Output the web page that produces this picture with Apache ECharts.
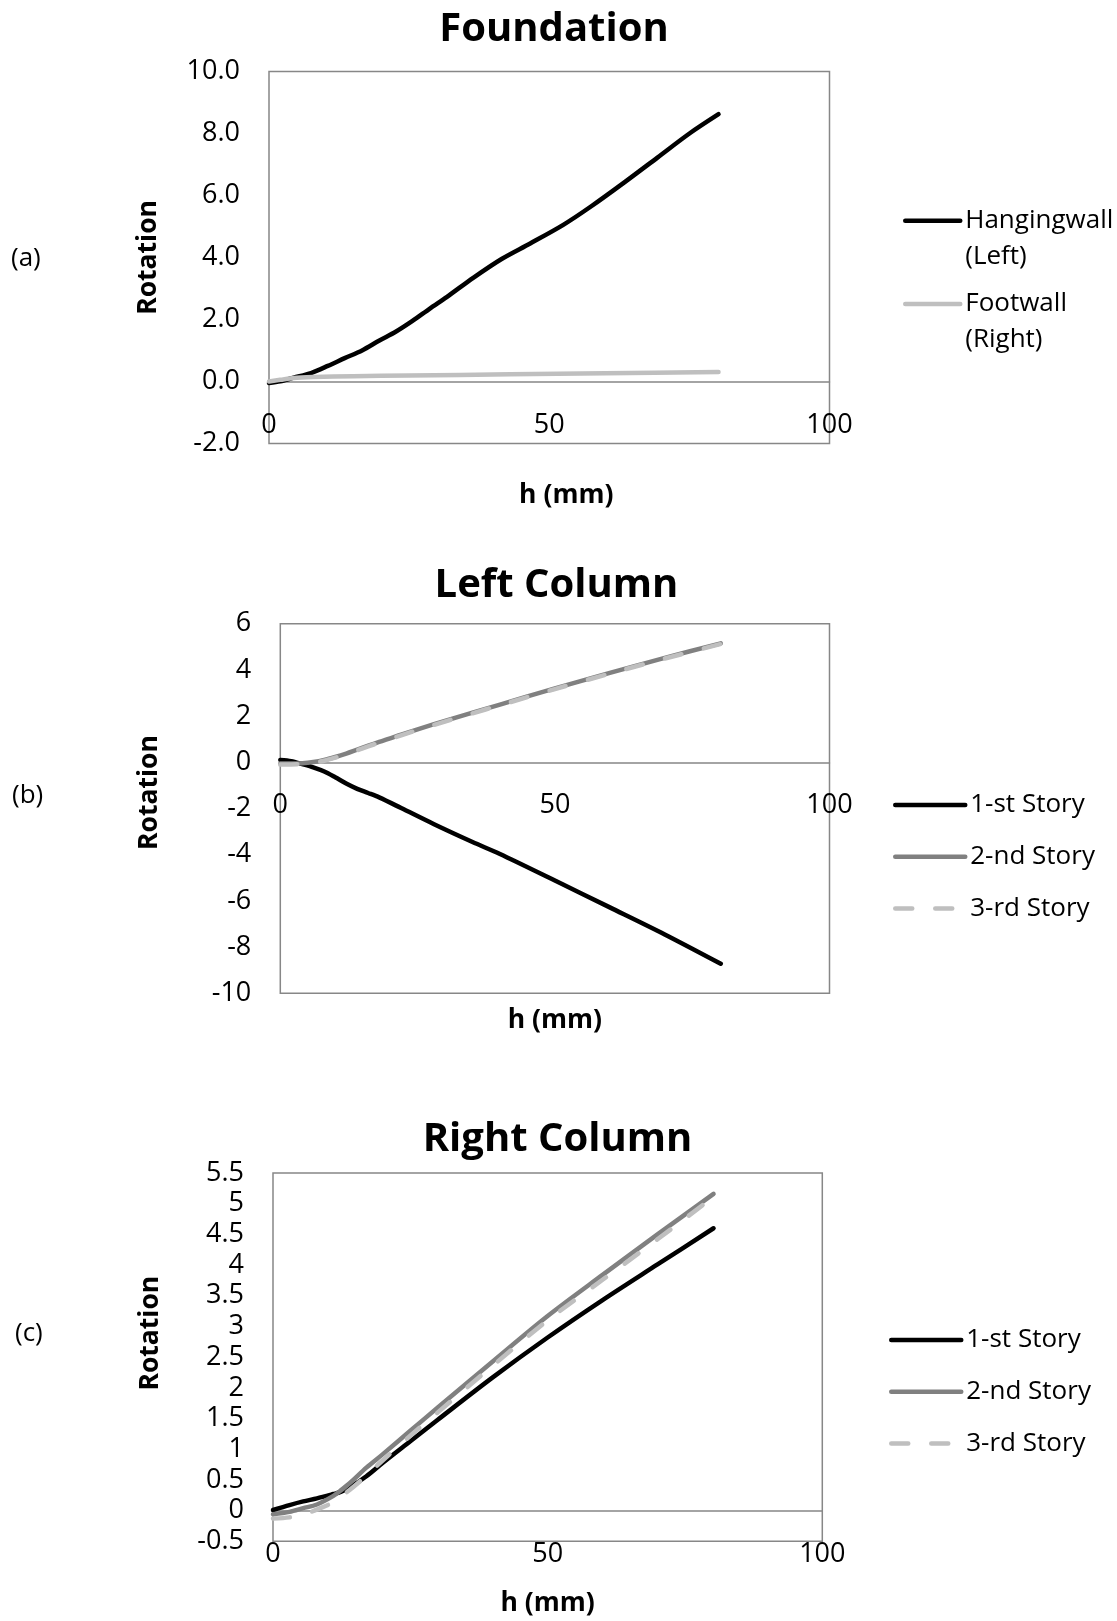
<!DOCTYPE html>
<html>
<head>
<meta charset="utf-8">
<script src="https://cdn.jsdelivr.net/npm/echarts@6/dist/echarts.min.js"></script>
<style>
  html, body { margin: 0; padding: 0; background: #fff; }
  #chart { width: 1117px; height: 1621px; }
</style>
</head>
<body>
<div id="chart"></div>
<script>
// ---- (a) Foundation ----
const hangH   = [0, 2, 4.4, 7.5, 10.5, 13.5, 16.6, 19.7, 22.6, 25.6, 28.7, 31.7, 36.5, 41.5, 46.6, 52.5, 57.5, 63.4, 69.3, 75.2, 80.2];
const hangRot = [-0.05, 0.0, 0.12, 0.27, 0.5, 0.75, 1.0, 1.32, 1.6, 1.95, 2.35, 2.72, 3.35, 3.95, 4.45, 5.05, 5.65, 6.42, 7.22, 8.02, 8.62];
const footH   = [0, 2, 4.4, 8, 15, 25, 43, 60, 80.2];
const footRot = [0.0, 0.05, 0.11, 0.14, 0.17, 0.19, 0.23, 0.26, 0.3];
const foundTicks = [-2, 0, 2, 4, 6, 8, 10];

// ---- (b) Left Column ----
const leftH    = [0, 2, 4, 6, 8, 10, 12, 14, 16, 18, 22, 28, 35, 40, 50, 60, 70, 80.2];
const left1st  = [0.1, 0.05, -0.08, -0.22, -0.4, -0.65, -0.92, -1.15, -1.33, -1.52, -1.98, -2.68, -3.45, -3.97, -5.12, -6.28, -7.45, -8.72];
const left2nd  = [-0.05, -0.05, -0.04, 0.01, 0.1, 0.23, 0.38, 0.55, 0.72, 0.88, 1.2, 1.65, 2.15, 2.5, 3.2, 3.87, 4.52, 5.15];
const left3rd  = [-0.1, -0.09, -0.07, -0.02, 0.07, 0.2, 0.35, 0.52, 0.69, 0.85, 1.17, 1.62, 2.12, 2.47, 3.17, 3.84, 4.49, 5.12];
const leftTicks = [-10, -8, -6, -4, -2, 0, 2, 4, 6];

// ---- (c) Right Column ----
const rightH    = [0, 3, 5.5, 8, 11, 12.2, 14, 17, 20, 25, 30, 40, 50, 60, 70, 80.2];
const right1st  = [0.01, 0.09, 0.15, 0.2, 0.27, 0.3, 0.38, 0.56, 0.78, 1.13, 1.48, 2.17, 2.82, 3.43, 4.01, 4.6];
const right2nd  = [-0.06, -0.02, 0.04, 0.1, 0.24, 0.32, 0.45, 0.7, 0.92, 1.3, 1.68, 2.43, 3.17, 3.84, 4.5, 5.16];
const rightH3   = [0, 3, 6, 8.6, 10.4, 12.2, 14, 17, 19.5, 25, 30, 40, 50, 60, 70, 79];
const right3rd  = [-0.13, -0.11, -0.05, 0.04, 0.11, 0.22, 0.34, 0.57, 0.78, 1.22, 1.6, 2.36, 3.1, 3.76, 4.42, 5.03];
const rightTicks = [-0.5, 0, 0.5, 1, 1.5, 2, 2.5, 3, 3.5, 4, 4.5, 5, 5.5];

const hTicks = [0, 50, 100];

const FONT = "'Open Sans', 'Noto Sans', sans-serif";
const BORDER = '#878787';
const C_BLACK = '#000000';
const C_DARK = '#808080';
const C_LIGHT = '#BFBFBF';
const DASH = [17, 23];
const TICK_SIZE = 27;
const AXIS_NAME_SIZE = 26.5;

const pairs = (xs, ys) => xs.map((x, i) => [x, ys[i]]);

const grids = [
  { left: 269, top: 71.4, width: 560.5, height: 372 },
  { left: 280.3, top: 623.7, width: 549.2, height: 369.6 },
  { left: 273, top: 1173, width: 549.3, height: 368.3 }
];

// the h axis (line, labels and title) sits on the zero rotation line
function zeroOffset(idx, ticks) {
  const lo = ticks[0], hi = ticks[ticks.length - 1];
  return -grids[idx].height * (0 - lo) / (hi - lo);
}

function xAxisFor(idx, ticks, nameGap, namePad) {
  return {
    type: 'value', gridIndex: idx, position: 'bottom',
    offset: zeroOffset(idx, ticks),
    min: hTicks[0], max: hTicks[hTicks.length - 1], interval: hTicks[1] - hTicks[0],
    name: 'h (mm)', nameLocation: 'middle', nameGap: nameGap,
    nameTextStyle: { fontFamily: FONT, fontSize: AXIS_NAME_SIZE, fontWeight: 'bold', color: '#000', padding: namePad },
    axisLine: { onZero: false, lineStyle: { color: BORDER, width: 1.5 } },
    axisTick: { show: false },
    splitLine: { show: false },
    axisLabel: { fontFamily: FONT, fontSize: TICK_SIZE, color: '#000', margin: 30 }
  };
}

function yAxisFor(idx, ticks, nameGap, namePad, fmt) {
  return {
    type: 'value', gridIndex: idx,
    min: ticks[0], max: ticks[ticks.length - 1], interval: ticks[1] - ticks[0],
    name: 'Rotation', nameLocation: 'middle', nameRotate: 90, nameGap: nameGap,
    nameTextStyle: { fontFamily: FONT, fontSize: AXIS_NAME_SIZE, fontWeight: 'bold', color: '#000', padding: namePad },
    axisLine: { show: false, onZero: false },
    axisTick: { show: false },
    splitLine: { show: false },
    axisLabel: { fontFamily: FONT, fontSize: TICK_SIZE, color: '#000', margin: 29, formatter: fmt }
  };
}

function lineSeries(name, idx, data, color, dashed) {
  return {
    type: 'line', name: name, xAxisIndex: idx, yAxisIndex: idx,
    data: data, symbol: 'none', smooth: 0.3, silent: true,
    lineStyle: { color: color, width: 4.5, cap: 'round', join: 'round', type: dashed ? DASH : 'solid' },
    itemStyle: { color: color }
  };
}

function panelTitle(text, cx, cy) {
  return {
    text: text, left: cx, top: cy, padding: 0,
    textAlign: 'center', textVerticalAlign: 'middle',
    textStyle: { fontFamily: FONT, fontSize: 40, fontWeight: 'bold', color: '#000' }
  };
}

function panelTag(text, x, cy) {
  return {
    text: text, left: x, top: cy, padding: 0,
    textAlign: 'left', textVerticalAlign: 'middle',
    textStyle: { fontFamily: FONT, fontSize: 26, fontWeight: 'normal', color: '#000' }
  };
}

const legendText = { fontFamily: FONT, fontSize: 26, color: '#000' };
const legendLine = { width: 4.5 };
const noMarker = { opacity: 0, color: 'rgba(0,0,0,0)', borderWidth: 0 };

// two-line legend entries: label wraps at the parenthesis, the line sits beside the first row
function wrapLegend(name, left, iconY) {
  return {
    data: [name], left: left, top: iconY - 54, orient: 'vertical', padding: 0,
    itemWidth: 55, itemHeight: 14, selectedMode: false,
    lineStyle: legendLine, itemStyle: noMarker,
    formatter: n => ' \n' + n.replace(' (', '\n('),
    textStyle: Object.assign({ lineHeight: 36 }, legendText)
  };
}

function storyLegend(left, firstY) {
  return {
    data: ['1-st Story', '2-nd Story', '3-rd Story'],
    left: left, top: firstY - 15, orient: 'vertical', padding: 0,
    itemWidth: 70, itemHeight: 14, itemGap: 21.7, selectedMode: false,
    lineStyle: legendLine, itemStyle: noMarker,
    textStyle: Object.assign({ lineHeight: 30 }, legendText)
  };
}

const option = {
  backgroundColor: '#ffffff',
  animation: false,
  title: [
    panelTitle('Foundation', 554, 30),
    panelTitle('Left Column', 556.5, 586),
    panelTitle('Right Column', 557.5, 1140),
    panelTag('(a)', 11, 259),
    panelTag('(b)', 12, 796),
    panelTag('(c)', 15, 1334)
  ],
  grid: grids.map(g => Object.assign({ show: true, borderColor: BORDER, borderWidth: 1.5, backgroundColor: 'transparent' }, g)),
  xAxis: [
    xAxisFor(0, foundTicks, 101, [0, 0, 0, 34]),
    xAxisFor(1, leftTicks, 245, 0),
    xAxisFor(2, rightTicks, 79, 0)
  ],
  yAxis: [
    yAxisFor(0, foundTicks, 107, 0, v => v.toFixed(1)),
    yAxisFor(1, leftTicks, 117, [0, 0, 0, 32], v => String(v)),
    yAxisFor(2, rightTicks, 109, [0, 0, 0, 48], v => String(v))
  ],
  legend: [
    wrapLegend('Hangingwall (Left)', 903, 220.7),
    wrapLegend('Footwall (Right)', 903, 304),
    storyLegend(893, 805),
    storyLegend(889, 1340)
  ],
  series: [
    lineSeries('Hangingwall (Left)', 0, pairs(hangH, hangRot), C_BLACK, false),
    lineSeries('Footwall (Right)', 0, pairs(footH, footRot), C_LIGHT, false),
    lineSeries('1-st Story', 1, pairs(leftH, left1st), C_BLACK, false),
    lineSeries('2-nd Story', 1, pairs(leftH, left2nd), C_DARK, false),
    lineSeries('3-rd Story', 1, pairs(leftH, left3rd), C_LIGHT, true),
    lineSeries('1-st Story', 2, pairs(rightH, right1st), C_BLACK, false),
    lineSeries('2-nd Story', 2, pairs(rightH, right2nd), C_DARK, false),
    lineSeries('3-rd Story', 2, pairs(rightH3, right3rd), C_LIGHT, true)
  ]
};

const chart = echarts.init(document.getElementById('chart'), null, { renderer: 'canvas' });
chart.setOption(option);
</script>
</body>
</html>
